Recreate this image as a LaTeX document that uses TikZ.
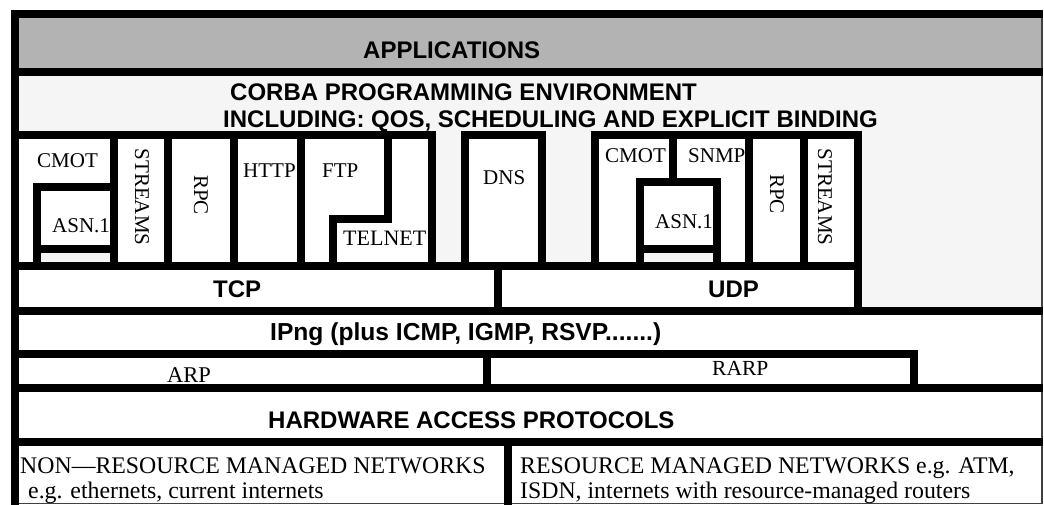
\documentclass[tikz,border=0pt]{standalone}
\usepackage{fontspec}
\setmainfont{Liberation Serif}
\newfontfamily\hdfont{Liberation Sans}
\definecolor{appgray}{RGB}{179,179,179}
\definecolor{envgray}{RGB}{245,245,245}
\tikzset{
  bar/.style={line width=8pt, line cap=rect},
  flatbar/.style={line width=8pt, line cap=butt},
  rim/.style={line width=1.5pt, draw=black!75},
  hd/.style={font=\hdfont\bfseries\fontsize{24}{27}\selectfont, inner sep=0pt, anchor=base west},
  lbl/.style={font=\fontsize{21}{24}\selectfont, inner sep=0pt, anchor=base west},
  big/.style={font=\fontsize{23.8}{26}\selectfont, inner sep=0pt, anchor=base west},
  vlbl/.style={font=\fontsize{21}{24}\selectfont, inner sep=0pt, rotate=-90},
}
\begin{document}
\begin{tikzpicture}[x=1pt,y=-1pt]
\useasboundingbox (0,0) rectangle (1044,505);
% coloured bands and white cells
\fill[appgray] (19,18) rectangle (1041,68);
\fill[envgray] (19,76) rectangle (1041,307);
\fill[white] (19,139) rectangle (428,262);
\fill[envgray] (41,253) rectangle (110,262);
\fill[white] (469,139) rectangle (537,262);
\fill[white] (599,139) rectangle (854,262);
\fill[envgray] (644,253) rectangle (713,262);
\fill[white] (19,270) rectangle (854,307);
\fill[white] (19,315) rectangle (1041,503);

% thin right and bottom rim
\draw[rim] (1042,14) -- (1042,503.5) -- (19,503.5);

% outer frame and full-width rules
\draw[flatbar] (11,14) -- (1043,14);
\draw[flatbar] (15,10) -- (15,505);
\draw[flatbar] (11,72) -- (1043,72);
\draw[flatbar] (11,311) -- (1043,311);
\draw[flatbar] (11,387.5) -- (1043,387.5);
\draw[flatbar] (11,442) -- (1043,442);

% TCP-side application stack
\draw[bar] (15,135) -- (432,135);
\draw[bar] (432,135) -- (432,266);
\draw[bar] (114,135) -- (114,266);
\draw[bar] (168,135) -- (168,266);
\draw[bar] (234,135) -- (234,266);
\draw[bar] (301,135) -- (301,266);
\draw[bar] (37,266) -- (37,187.5) -- (114,187.5);
\draw[bar] (37,249) -- (114,249);
\draw[bar] (387.5,135) -- (387.5,219) -- (333,219) -- (333,266);

% DNS
\draw[bar] (465,266) -- (465,135) -- (541.5,135) -- (541.5,266);

% UDP-side application stack
\draw[bar] (595,266) -- (595,135) -- (858,135) -- (858,266);
\draw[bar] (673,135) -- (673,182.5);
\draw[bar] (640,266) -- (640,182.5) -- (716.5,182.5) -- (716.5,266);
\draw[bar] (640,249) -- (716.5,249);
\draw[bar] (749,135) -- (749,266);
\draw[bar] (804,135) -- (804,266);

% transport layer
\draw[bar] (15,266) -- (858,266);
\draw[bar] (498,266) -- (498,311);
\draw[bar] (858,266) -- (858,311);

% address resolution
\draw[bar] (15,354) -- (913.5,354) -- (913.5,387.5);
\draw[bar] (487,354) -- (487,387.5);

% network split
\draw[flatbar] (508,438) -- (508,505);

% labels
\node[hd] (apps) at (363,59) {APPLICATIONS};
\node[hd] (corba1) at (230,101) {CORBA PROGRAMMING ENVIRONMENT};
\node[hd] (corba2) at (223,128) {INCLUDING: QOS, SCHEDULING AND EXPLICIT BINDING};
\node[lbl] (cmotL) at (37,168) {CMOT};
\node[lbl] (asnL) at (52,233) {ASN.1};
\node[vlbl] (strL) at (142,197) {STREAMS};
\node[vlbl] (rpcL) at (201,195) {RPC};
\node[lbl] (http) at (243,178) {HTTP};
\node[lbl] (ftp) at (322,178) {FTP};
\node[lbl, font=\fontsize{22}{24}\selectfont] (telnet) at (343,245) {TELNET};
\node[lbl] (dns) at (483,185) {DNS};
\node[lbl] (cmotR) at (605,163) {CMOT};
\node[lbl] (snmp) at (688,163) {SNMP};
\node[lbl] (asnR) at (655,229) {ASN.1};
\node[vlbl] (rpcR) at (777,194) {RPC};
\node[vlbl] (strR) at (825,197) {STREAMS};
\node[hd] (tcp) at (213,297) {TCP};
\node[hd] (udp) at (708,297) {UDP};
\node[hd, font=\hdfont\bfseries\fontsize{24.6}{27}\selectfont] (ipng) at (270,340) {IPng (plus ICMP, IGMP, RSVP.......)};
\node[lbl, font=\fontsize{22.5}{24}\selectfont] (arp) at (167,382) {ARP};
\node[lbl, font=\fontsize{21.5}{24}\selectfont] (rarp) at (712,375) {RARP};
\node[hd] (hw) at (268,428) {HARDWARE ACCESS PROTOCOLS};
\node[big] (nonrm1) at (20,473) {NON---RESOURCE MANAGED NETWORKS};
\node[big] (nonrm2) at (28,498) {e.g. ethernets, current internets};
\node[big] (rm1) at (520,473) {RESOURCE MANAGED NETWORKS e.g. ATM,};
\node[big] (rm2) at (520,498) {ISDN, internets with resource-managed routers};
\end{tikzpicture}
\end{document}
